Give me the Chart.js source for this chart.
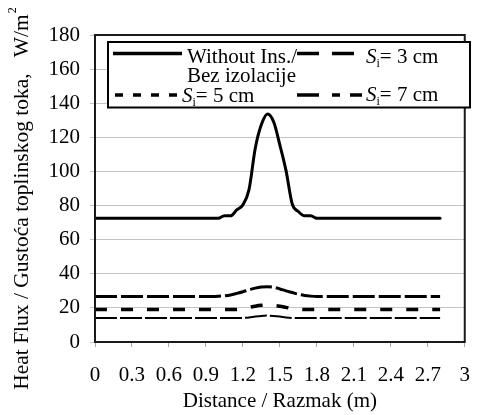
<!DOCTYPE html>
<html>
<head>
<meta charset="utf-8">
<script src="https://cdn.jsdelivr.net/npm/chart.js@4/dist/chart.umd.min.js"></script>
<style>
  html, body { margin: 0; padding: 0; background: #fff; }
  #wrap { width: 486px; height: 415px; }
  .fprobe { font-family: "Liberation Serif"; position: absolute; left: -1000px; top: 0; font-size: 21px; }
</style>
</head>
<body>
<span class="fprobe">Aa</span><span class="fprobe" style="font-style:italic">Aa</span>
<div id="wrap"><canvas id="c" width="486" height="415"></canvas></div>
<script>
// ---- Data ----
const distance   = [0, 0.95, 1.0, 1.05, 1.1, 1.15, 1.2, 1.25, 1.3, 1.35, 1.4, 1.45, 1.5, 1.55, 1.6, 1.65, 1.7, 1.75, 1.8, 1.85, 2.8];
const withoutIns = [72.5, 72.5, 72.5, 74, 74, 77.4, 80.4, 89.5, 113.5, 127.5, 133.7, 129, 115.5, 100.5, 81, 76.5, 74, 74, 72.5, 72.5, 72.5];
const si3cm      = [26.7, 26.7, 26.8, 27.1, 27.6, 28.5, 29.5, 30.6, 31.6, 32.2, 32.4, 32.1, 31.1, 30, 29, 28, 27.3, 26.9, 26.7, 26.7, 26.7];
const si5cm      = [19, 19, 19, 19, 19, 19, 19.4, 20.2, 21, 21.5, 21.7, 21.5, 21, 20.3, 19.6, 19.2, 19, 19, 19, 19, 19];
const si7cm      = [14, 14, 14, 14, 14, 14, 14.1, 14.4, 14.9, 15.3, 15.5, 15.3, 14.9, 14.4, 14.1, 14, 14, 14, 14, 14, 14];

const xTickValues = [0, 0.3, 0.6, 0.9, 1.2, 1.5, 1.8, 2.1, 2.4, 2.7, 3];
const xTickLabels = ["0", "0.3", "0.6", "0.9", "1.2", "1.5", "1.8", "2.1", "2.4", "2.7", "3"];
const yTickValues = [0, 20, 40, 60, 80, 100, 120, 140, 160, 180];
const yTickLabels = ["0", "20", "40", "60", "80", "100", "120", "140", "160", "180"];

const xTitle = "Distance / Razmak (m)";
const yTitle = "Heat Flux / Gustoća toplinskog toka,   W/m";
const yTitleSup = "2";
const legendTitles = ["Without Ins./", "Bez izolacije"];

const FONT = '"Liberation Serif", "DejaVu Serif", serif';

function pts(vals) { return distance.map((d, i) => ({ x: d, y: vals[i] })); }

// ---- custom drawing: frame, legend, y title ----
const decor = {
  id: 'decor',
  afterDatasetsDraw(chart) {
    const { ctx, chartArea: a } = chart;
    ctx.save();
    ctx.strokeStyle = '#1a1a1a';
    ctx.lineWidth = 2;
    ctx.strokeRect(a.left, a.top, a.right - a.left, a.bottom - a.top);
    ctx.restore();
  },
  afterDraw(chart) {
    const ctx = chart.ctx;
    ctx.save();
    ctx.fillStyle = '#fff';
    ctx.fillRect(108, 42, 362, 65.5);
    ctx.strokeStyle = '#000';
    ctx.lineWidth = 2;
    ctx.strokeRect(108, 42, 362, 65.5);

    function sample(x1, x2, y, dash, w) {
      ctx.save();
      ctx.beginPath();
      ctx.setLineDash(dash);
      ctx.lineWidth = w;
      ctx.strokeStyle = '#000';
      ctx.lineCap = 'butt';
      ctx.moveTo(x1, y); ctx.lineTo(x2, y);
      ctx.stroke();
      ctx.restore();
    }
    function siLabel(x, y, rest) {
      ctx.fillStyle = '#000';
      ctx.textBaseline = 'alphabetic';
      ctx.textAlign = 'left';
      ctx.font = 'italic 21px ' + FONT;
      ctx.fillText('S', x, y);
      let w = ctx.measureText('S').width;
      ctx.font = '12px ' + FONT;
      ctx.fillText('i', x + w, y + 4);
      w += ctx.measureText('i').width;
      ctx.font = '21px ' + FONT;
      ctx.fillText(rest, x + w, y);
    }
    sample(113, 182, 53.5, [], 3.5);
    sample(297, 357, 53.5, [22, 13], 3.5);
    sample(115, 179, 95, [8, 10], 3.5);
    sample(297, 362, 95, [22, 13, 8, 10], 3.5);

    ctx.fillStyle = '#000';
    ctx.font = '21px ' + FONT;
    ctx.textBaseline = 'alphabetic';
    ctx.textAlign = 'left';
    ctx.fillText(legendTitles[0], 187, 63);
    ctx.fillText(legendTitles[1], 187, 82);
    siLabel(366, 62.5, '= 3 cm');
    siLabel(182, 101.5, '= 5 cm');
    siLabel(366, 101, '= 7 cm');
    ctx.restore();

    ctx.save();
    ctx.translate(22, 199);
    ctx.rotate(-Math.PI / 2);
    ctx.fillStyle = '#000';
    ctx.textBaseline = 'middle';
    ctx.textAlign = 'left';
    ctx.font = '21.5px ' + FONT;
    const w1 = ctx.measureText(yTitle).width;
    ctx.font = '12px ' + FONT;
    const w2 = ctx.measureText(yTitleSup).width;
    const x0 = -(w1 + w2) / 2;
    ctx.font = '21.5px ' + FONT;
    ctx.fillText(yTitle, x0, 0);
    ctx.font = '12px ' + FONT;
    ctx.fillText(yTitleSup, x0 + w1 + 1, -9);
    ctx.restore();
  }
};

function build() {
  new Chart(document.getElementById('c'), {
    type: 'line',
    data: {
      datasets: [
        { label: 'Without Ins./ Bez izolacije', data: pts(withoutIns), borderColor: '#000', borderWidth: 3, pointRadius: 0, cubicInterpolationMode: 'monotone', borderJoinStyle: 'round', borderCapStyle: 'round' },
        { label: 'Si= 3 cm', data: pts(si3cm), borderColor: '#000', borderWidth: 3, borderDash: [22, 4], pointRadius: 0, cubicInterpolationMode: 'monotone' },
        { label: 'Si= 5 cm', data: pts(si5cm), borderColor: '#000', borderWidth: 3.5, borderDash: [12, 14], pointRadius: 0, cubicInterpolationMode: 'monotone' },
        { label: 'Si= 7 cm', data: pts(si7cm), borderColor: '#000', borderWidth: 2, borderDash: [22, 3], pointRadius: 0, cubicInterpolationMode: 'monotone' }
      ]
    },
    options: {
      responsive: false,
      animation: false,
      devicePixelRatio: 1,
      layout: { padding: { top: 35, right: 5, left: 0, bottom: 0 } },
      plugins: { legend: { display: false }, tooltip: { enabled: false } },
      scales: {
        x: {
          type: 'linear', min: 0, max: 3,
          afterBuildTicks(scale) { scale.ticks = xTickValues.map(v => ({ value: v })); },
          afterFit(scale) { scale.height = 73; },
          ticks: {
            autoSkip: false, maxRotation: 0, padding: 16, color: '#000',
            font: { family: FONT, size: 21 },
            callback: (v, i) => xTickLabels[i]
          },
          grid: { drawOnChartArea: false, drawTicks: true, tickLength: 5, color: '#aaa' },
          border: { display: true, color: '#1a1a1a', width: 2 },
          title: { display: true, text: xTitle, color: '#000', font: { family: FONT, size: 21 }, padding: { top: 0, bottom: 1 } }
        },
        y: {
          min: 0, max: 180,
          afterBuildTicks(scale) { scale.ticks = yTickValues.map(v => ({ value: v })); },
          afterFit(scale) { scale.width = 95; },
          ticks: {
            padding: 10, color: '#000',
            font: { family: FONT, size: 21 },
            callback: (v, i) => yTickLabels[i]
          },
          grid: { color: '#c4c4c4', lineWidth: 1, drawTicks: true, tickLength: 5 },
          border: { display: true, color: '#1a1a1a', width: 2 }
        }
      }
    },
    plugins: [decor]
  });
}

let built = false;
function go() { if (!built) { built = true; build(); } }
if (document.fonts && document.fonts.load) {
  Promise.all([
    document.fonts.load('21px "Liberation Serif"'),
    document.fonts.load('italic 21px "Liberation Serif"')
  ]).then(go, go);
  setTimeout(go, 1500);
} else {
  go();
}
</script>
</body>
</html>
